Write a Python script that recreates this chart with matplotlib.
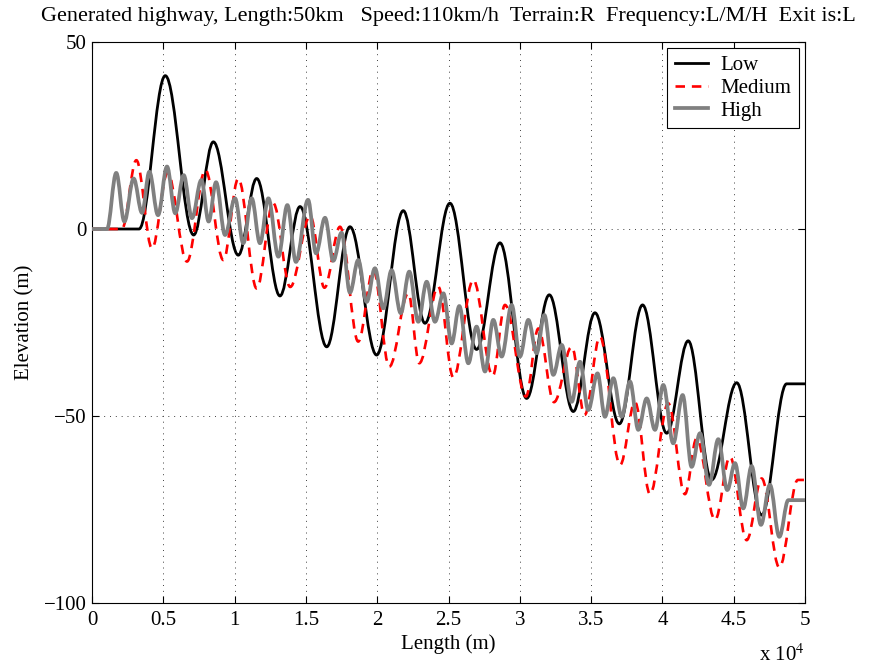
import matplotlib
matplotlib.use("Agg")
import matplotlib.pyplot as plt
from matplotlib.path import Path
from matplotlib.patches import PathPatch
from matplotlib.lines import Line2D

plt.rcParams['font.family'] = ['Liberation Serif', 'DejaVu Serif']
plt.rcParams['mathtext.fontset'] = 'stix'

# ---- data (extrema: position in m, elevation in m) ----
low_x = [0, 3300, 5140, 7130, 8510, 10260, 11550, 13180, 14590, 16460, 18090, 19960,
         21830, 23350, 25100, 26970, 28610, 30480, 32070, 33750, 35270, 36980, 38610,
         40300, 41810, 43450, 45210, 46960, 48710, 50000]
low_y = [0, 0, 41, -1.6, 23.3, -7, 13.5, -17.9, 6, -31.5, 0.6, -33.7,
         4.9, -25.2, 6.9, -32.2, -3.7, -45.3, -17.6, -48.8, -22.4, -52.1, -20.3,
         -54.6, -29.9, -67.1, -41.1, -76.5, -41.4, -41.4]

medium_x = [0, 2100, 3110, 4210, 5300, 6660, 7950, 9210, 10260, 11550,
            12710, 13900, 15300, 16300, 17390, 18670, 19730, 20850, 22180, 22950,
            24280, 25340, 26740, 28100, 28960, 30430, 31300, 32400, 33640, 34550,
            35620, 37030, 38080, 39130, 40410, 41580, 42400, 43690, 44740, 45910,
            46960, 48200, 49500, 50000]
medium_y = [0, 0, 18.4, -5.2, 15, -8.7, 15.8, -8.3, 13.5, -15.9,
            6.9, -15.5, 3.5, -15.7, 0.6, -30.1, -11, -36.8, -17.2, -35.9,
            -15.4, -39.7, -13.6, -39.3, -20.3, -44.8, -26.6, -46.3, -31.5, -49.7,
            -28.8, -63.1, -46.3, -70.9, -46.6, -70.9, -56, -77.8, -60.9, -83.2,
            -66.7, -90.5, -67.1, -67.1]

high_x = [0, 1050, 1700, 2270, 2920, 3510, 4020, 4630, 5260, 5840,
          6430, 7010, 7670, 8180, 8700, 9330, 10030, 10610, 11200, 11780,
          12370, 13070, 13700, 14300, 15150, 15710, 16340, 16920, 17500, 18090,
          18670, 19260, 19840, 20430, 21010, 21650, 22250, 22880, 23470, 24050,
          24640, 25220, 25760, 26390, 26970, 27560, 28140, 28730, 29430, 30010,
          30600, 31180, 31720, 32350, 32940, 33640, 34220, 34800, 35450, 35970,
          36560, 37140, 37730, 38310, 38900, 39480, 40060, 40760, 41420, 42050,
          42640, 43270, 43920, 44550, 45090, 45670, 46260, 46910, 47540, 48200,
          48830, 50000]
high_y = [0, 0, 15, 2, 13.5, 4.3, 15.3, 3.7, 16.7, 4.2,
          14.4, 2.9, 13.1, 2, 12.5, -1.6, 8.2, -3.8, 8.2, -3.8,
          8.2, -7.4, 6.4, -8.8, 7.8, -6.5, 3, -8.5, -1, -17,
          -8.3, -19.5, -10.5, -21.2, -11, -22.5, -11.4, -24.8, -14.1, -24.8,
          -17.2, -30.6, -20.6, -35.9, -26.1, -38.1, -24.3, -34.1, -20.3, -34.1,
          -24.3, -33.2, -23, -39, -31, -46.2, -35.5, -48.4, -38.6, -50.2,
          -39.9, -50.2, -40.8, -53.7, -45.3, -53.7, -41.7, -57.3, -44.4, -63.6,
          -54.6, -68.4, -56.2, -69.8, -62.6, -74.7, -63.4, -79.1, -68.4, -82.3,
          -72.5, -72.5]

series_names = ["Low", "Medium", "High"]
x_ticks = [0, 0.5, 1, 1.5, 2, 2.5, 3, 3.5, 4, 4.5, 5]
y_ticks = [-100, -50, 0, 50]
title_text = ("Generated highway, Length:50km   Speed:110km/h  Terrain:R  "
              "Frequency:L/M/H  Exit is:L")


def smooth_path(xs, ys):
    """Cubic Bezier path through the extrema with horizontal tangents."""
    k = 0.3634
    verts = [(xs[0], ys[0])]
    codes = [Path.MOVETO]
    for i in range(1, len(xs)):
        x0, y0, x1, y1 = xs[i - 1], ys[i - 1], xs[i], ys[i]
        dx = x1 - x0
        verts += [(x0 + k * dx, y0), (x1 - k * dx, y1), (x1, y1)]
        codes += [Path.CURVE4] * 3
    return Path(verts, codes)


FS = 15
fig = plt.figure(figsize=(8.69, 6.70), dpi=100)
ax = fig.add_axes([92 / 869, 1 - 603 / 670, (805 - 92) / 869, (603 - 42) / 670])

styles = [
    dict(color="black", lw=2.0, ls="-"),
    dict(color="red", lw=1.9, ls=(0, (3.6, 2.6))),
    dict(color="#808080", lw=2.7, ls="-"),
]
handles = []
for (xs, ys), st, name in zip([(low_x, low_y), (medium_x, medium_y), (high_x, high_y)],
                              styles, series_names):
    patch = PathPatch(smooth_path(xs, ys), fill=False, edgecolor=st["color"],
                      lw=st["lw"], linestyle=st["ls"], capstyle="butt",
                      joinstyle="round", zorder=3)
    ax.add_patch(patch)
    handles.append(Line2D([], [], color=st["color"], lw=st["lw"], ls=st["ls"], label=name))

ax.set_xlim(0, 50000)
ax.set_ylim(-100, 50)
ax.set_xticks([t * 1e4 for t in x_ticks])
ax.set_xticklabels([f"{t:g}" for t in x_ticks])
ax.set_yticks(y_ticks)
ax.set_yticklabels([f"{t:g}".replace("-", "\u2212") for t in y_ticks])

ax.grid(True, color="0.25", lw=0.7, linestyle=(0, (1, 5)))
ax.set_axisbelow(True)
ax.tick_params(direction="in", length=5, width=0.8, top=True, right=True,
               labelsize=FS, colors="black")
ax.tick_params(axis="x", pad=6)
ax.tick_params(axis="y", pad=4)
for s in ax.spines.values():
    s.set_linewidth(0.8)
    s.set_color("black")

ax.set_xlabel("Length (m)", fontsize=FS)
ax.xaxis.set_label_coords(0.5, -0.055)
ax.set_ylabel("Elevation (m)", fontsize=FS)
ax.yaxis.set_label_coords(-0.08, 0.5)
ax.set_title(title_text, fontsize=16, pad=15)
ax.text(1.0, -0.093, r"x 10$^4$", transform=ax.transAxes, ha="right", va="center",
        fontsize=FS)

leg = ax.legend(handles=handles, loc="upper right", fontsize=FS, frameon=True,
                fancybox=False, framealpha=1, edgecolor="black", handlelength=1.6,
                borderaxespad=0.3, labelspacing=0.15, handletextpad=0.6,
                borderpad=0.35)
leg.get_frame().set_linewidth(0.8)

fig.savefig("out.png", dpi=100)
